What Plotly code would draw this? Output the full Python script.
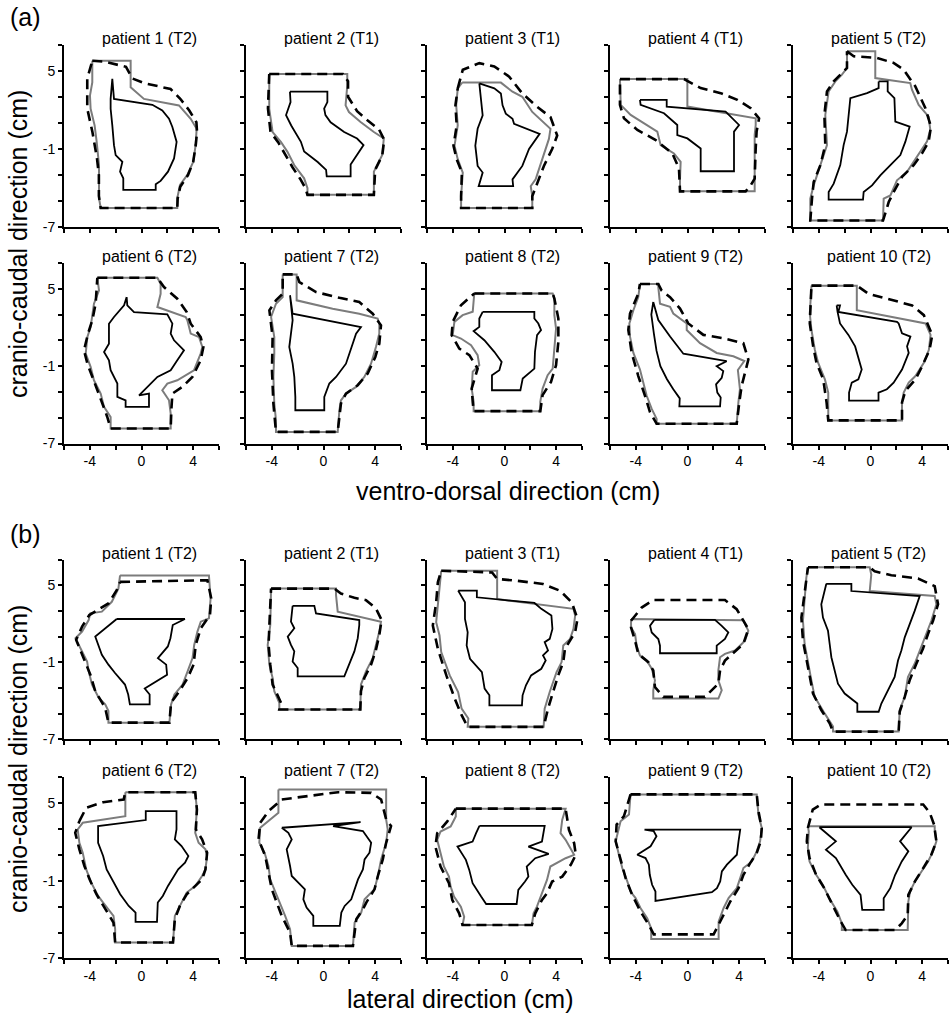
import plotly.graph_objects as go

# ---------------------------------------------------------------------------
# Contours (x, y) in cm for each patient.
#   *_inner : tumour outline (solid black)
#   *_mid   : margin outline (grey)
#   *_outer : motion-expanded outline (dashed black)
# Panel (a): ventro-dorsal vs cranio-caudal; panel (b): lateral vs cranio-caudal
# ---------------------------------------------------------------------------

# ---- panel (a) ----
a1_inner = [(-2.26,4.37),(-2.13,2.84),(0.84,2.39),(1.61,1.95),(2.13,1.32),(2.39,0.69),(2.72,-0.46),(2.52,-1.73),(2.05,-2.74),(1.48,-3.45),(1.10,-3.71),(1.10,-4.14),(-1.41,-4.14),(-1.41,-3.25),(-1.66,-2.74),(-1.48,-1.98),(-2.0,-1.47),(-2.13,-0.71),(-2.26,0.81),(-2.39,2.08),(-2.39,2.84),(-2.26,4.37)]
a1_mid = [(-3.81,5.76),(-0.84,5.76),(-0.84,3.73),(0.19,2.84),(2.90,2.34),(3.81,1.32),(4.27,0.56),(4.19,-0.71),(4.01,-1.98),(3.55,-2.99),(2.98,-3.76),(2.77,-4.77),(2.77,-5.53),(-3.16,-5.53),(-3.29,-4.77),(-3.29,-2.23),(-3.47,-0.46),(-3.63,0.81),(-3.94,2.08),(-3.99,3.10),(-3.81,4.11),(-3.81,5.76)]
a1_outer = [(-3.81,5.76),(-2.9,5.7),(-1.2,5.3),(-0.7,4.4),(0.2,4.05),(1.35,3.8),(2.25,3.6),(3.0,2.85),(3.7,1.95),(4.25,1.05),(4.3,0.3),(4.2,-0.7),(4.0,-2.0),(3.6,-3.0),(3.0,-3.9),(2.8,-4.8),(2.77,-5.53),(-3.16,-5.53),(-3.3,-4.6),(-3.3,-3.0),(-3.45,-1.7),(-3.8,0.3),(-4.2,2.1),(-4.2,4.4),(-3.81,5.76)]

a2_inner = [(-2.6,3.4),(0.3,3.4),(0.3,2.6),(0.05,2.1),(0.15,1.6),(0.55,1.05),(1.6,0.3),(2.6,-0.2),(3.1,-0.7),(2.6,-1.5),(2.1,-2.2),(2.1,-3.1),(0.25,-3.1),(0.2,-2.6),(-0.45,-2.0),(-1.5,-1.2),(-1.75,-0.45),(-2.5,0.8),(-2.9,1.6),(-2.55,2.6),(-2.6,3.4)]
a2_mid = [(-4.2,4.75),(1.84,4.75),(1.84,3.86),(1.71,2.34),(1.97,1.83),(2.87,1.07),(3.9,0.3),(4.67,-0.2),(4.54,-1.47),(3.9,-2.74),(3.9,-4.52),(-1.24,-4.52),(-1.24,-4.01),(-1.5,-3.25),(-2.27,-2.23),(-2.79,-1.22),(-3.3,-0.46),(-3.94,0.3),(-4.2,2.08),(-4.2,4.75)]
a2_outer = [(-4.2,4.75),(1.5,4.75),(1.9,4.2),(1.9,3.0),(2.6,1.9),(3.4,1.2),(4.3,0.5),(4.7,-0.3),(4.55,-1.5),(4.0,-2.6),(3.9,-4.52),(-1.24,-4.52),(-1.4,-4.0),(-1.8,-3.3),(-2.4,-2.4),(-3.0,-1.3),(-3.5,-0.5),(-4.1,0.3),(-4.3,2.1),(-4.2,4.75)]

a3_inner = [(-1.95,4.03),(-1.82,2.61),(-1.69,1.58),(-2.08,0.55),(-2.26,-0.75),(-2.08,-2.30),(-1.69,-2.81),(-2.0,-3.85),(0.67,-3.85),(0.62,-3.33),(1.38,-2.30),(1.90,-1.0),(2.72,0.16),(0.74,0.93),(0.62,1.32),(0.10,1.71),(-0.15,2.35),(-0.28,3.26),(-0.79,3.65),(-1.95,4.03)]
a3_mid = [(-3.28,4.09),(-0.28,4.09),(0.62,3.39),(1.38,3.0),(2.15,1.84),(3.56,0.55),(3.44,-0.23),(3.18,-1.0),(2.79,-2.30),(2.41,-3.33),(2.03,-3.85),(2.15,-4.62),(2.15,-5.53),(-3.36,-5.53),(-3.36,-4.62),(-3.23,-2.81),(-3.62,-1.78),(-3.87,-0.75),(-3.62,0.80),(-3.74,2.35),(-3.62,3.65),(-3.28,4.09)]
a3_outer = [(-3.62,3.65),(-3.23,5.07),(-1.95,5.58),(-0.79,5.33),(0.36,4.55),(1.38,3.26),(2.54,2.22),(3.56,1.45),(4.08,0.03),(3.69,-1.0),(3.05,-2.3),(2.54,-3.59),(2.15,-4.62),(2.15,-5.53),(-3.36,-5.53),(-3.36,-4.62),(-3.3,-2.8),(-3.7,-1.8),(-3.95,-0.75),(-3.7,0.8),(-3.8,2.35),(-3.62,3.65)]

a4_inner = [(-3.68,2.77),(-1.61,2.77),(-1.61,2.25),(2.95,1.87),(3.99,0.84),(3.60,0.33),(3.60,-2.71),(1.02,-2.71),(1.02,-0.96),(-0.01,-0.19),(-0.79,0.07),(-0.79,0.84),(-1.82,1.74),(-3.63,2.38),(-3.68,2.77)]
a4_mid = [(-5.23,4.36),(-0.01,4.36),(-0.01,2.25),(5.28,1.35),(5.28,0.84),(5.20,0.07),(5.20,-4.25),(-0.58,-4.25),(-0.58,-3.27),(-0.53,-1.99),(-1.05,-1.34),(-2.08,-0.70),(-2.34,0.33),(-4.40,1.61),(-5.17,2.38),(-5.23,3.41),(-5.23,4.36)]
a4_outer = [(-5.23,4.36),(-0.27,4.36),(1.02,3.67),(2.57,3.28),(3.86,2.77),(4.89,2.13),(5.54,1.35),(5.35,0.33),(5.28,-0.96),(5.20,-3.27),(4.89,-3.79),(4.50,-4.25),(-0.58,-4.25),(-0.66,-2.50),(-1.17,-1.34),(-2.46,-0.32),(-3.88,0.46),(-4.92,1.35),(-5.23,2.38),(-5.23,4.36)]

a5_inner = [(0.63,4.18),(1.33,4.18),(1.33,3.41),(1.85,2.90),(1.92,1.10),(3.03,0.71),(2.70,-0.44),(2.31,-1.47),(1.54,-2.24),(0.76,-3.02),(0.12,-3.79),(-0.53,-4.30),(-0.58,-4.89),(-3.24,-4.89),(-3.24,-4.30),(-2.85,-3.66),(-2.34,-2.24),(-2.08,-0.70),(-1.82,0.33),(-1.56,2.90),(-0.27,3.28),(0.63,3.67),(0.63,4.18)]
a5_mid = [(-1.82,6.50),(0.37,6.50),(0.37,4.44),(3.08,4.05),(3.21,3.54),(3.73,2.38),(4.50,1.48),(4.63,0.46),(4.37,-0.44),(3.86,-1.22),(3.34,-1.99),(2.83,-2.76),(2.05,-3.40),(1.54,-4.56),(1.02,-4.81),(0.97,-6.49),(-4.66,-6.49),(-4.66,-4.81),(-4.40,-3.79),(-3.88,-2.24),(-3.37,-0.70),(-3.50,1.61),(-3.24,3.41),(-2.72,4.18),(-2.21,4.70),(-1.82,5.21),(-1.82,6.50)]
a5_outer = [(-1.82,6.50),(-1.30,6.11),(0.50,5.98),(1.79,5.60),(2.57,5.08),(3.47,3.80),(4.25,2.13),(4.68,0.71),(4.50,-0.44),(3.99,-1.34),(3.34,-2.24),(2.44,-3.14),(1.79,-4.30),(1.41,-5.07),(0.97,-6.49),(-4.66,-6.49),(-4.53,-4.81),(-4.40,-3.53),(-3.88,-2.24),(-3.50,-0.70),(-3.57,1.61),(-3.37,3.41),(-2.85,4.18),(-1.82,5.21),(-1.82,6.50)]

a6_inner = [(-1.15,4.35),(-1.10,3.71),(-0.58,3.19),(2.0,3.01),(2.39,2.29),(2.26,1.52),(2.52,1.0),(3.29,0.23),(2.77,-0.55),(2.26,-1.32),(1.23,-1.84),(0.19,-2.87),(-0.19,-3.26),(0.58,-3.13),(0.58,-4.16),(-1.23,-4.16),(-1.23,-3.65),(-1.87,-3.39),(-1.87,-2.35),(-2.39,-1.32),(-2.52,-0.55),(-2.90,0.10),(-2.52,0.74),(-2.52,2.29),(-2.13,2.81),(-1.35,3.71),(-1.15,4.35)]
a6_mid = [(-3.42,5.85),(1.23,5.85),(1.48,5.39),(1.48,4.61),(1.23,3.58),(3.42,2.81),(3.55,2.55),(3.81,1.52),(4.45,1.26),(4.71,0.48),(4.58,-0.03),(4.06,-1.32),(2.77,-2.10),(2.0,-2.35),(1.61,-2.87),(2.13,-3.65),(2.26,-4.68),(2.26,-5.84),(-2.39,-5.84),(-2.39,-4.94),(-2.90,-4.16),(-3.16,-3.13),(-3.68,-2.10),(-3.94,-1.06),(-4.32,-0.03),(-4.19,1.26),(-3.94,2.03),(-3.68,3.84),(-3.29,4.87),(-3.42,5.85)]
a6_outer = [(-3.42,5.85),(1.23,5.85),(1.74,5.13),(2.77,4.23),(3.50,3.19),(3.81,2.29),(4.58,1.26),(4.79,0.48),(4.58,-0.55),(3.94,-1.84),(3.16,-2.61),(2.39,-3.13),(2.31,-4.42),(2.26,-5.84),(-2.39,-5.84),(-2.65,-4.94),(-3.03,-3.90),(-3.68,-2.10),(-4.19,-0.81),(-4.45,0.23),(-4.14,1.52),(-3.81,2.55),(-3.55,3.84),(-3.42,5.85)]

a7_inner = [(-2.59,4.48),(-2.39,3.06),(2.90,2.03),(2.52,1.52),(2.26,0.74),(2.0,-0.03),(1.74,-0.81),(0.97,-1.84),(0.45,-2.35),(0.06,-3.39),(0.06,-4.42),(-2.18,-4.42),(-2.18,-3.39),(-2.26,-1.84),(-2.39,-0.81),(-2.65,0.48),(-2.52,1.52),(-2.39,2.55),(-2.59,4.48)]
a7_mid = [(-3.16,6.11),(-2.08,6.11),(-2.08,4.10),(0.71,3.45),(2.77,3.06),(4.19,2.68),(4.32,2.29),(4.32,1.52),(4.06,0.48),(3.68,-0.81),(3.16,-1.84),(2.52,-2.61),(1.74,-3.13),(1.35,-3.65),(1.23,-4.42),(1.10,-6.10),(-3.68,-6.10),(-3.68,-5.19),(-3.81,-3.90),(-3.88,-1.84),(-3.81,-0.03),(-3.81,1.26),(-4.06,2.81),(-3.68,3.84),(-3.16,4.35),(-3.16,6.11)]
a7_outer = [(-3.16,6.11),(-2.08,6.11),(-1.87,5.52),(-0.58,4.74),(1.23,4.30),(2.77,3.97),(3.81,3.06),(4.45,2.16),(4.32,0.74),(4.01,-0.29),(3.42,-1.58),(2.65,-2.48),(1.74,-3.13),(1.35,-3.90),(1.10,-6.10),(-3.68,-6.10),(-3.88,-3.90),(-3.99,-1.32),(-3.94,1.26),(-4.19,3.32),(-3.68,4.10),(-3.16,4.61),(-3.16,6.11)]

a8_inner = [(-1.69,3.21),(2.31,3.21),(2.31,2.69),(2.62,2.30),(2.83,1.79),(2.52,1.40),(2.36,0.11),(2.31,-1.19),(1.41,-1.96),(1.23,-2.87),(-0.97,-2.87),(-0.97,-1.70),(-0.40,-1.32),(-0.22,-0.67),(-0.79,0.11),(-1.56,1.01),(-2.39,1.71),(-1.95,2.04),(-1.95,2.69),(-1.69,3.21)]
a8_mid = [(-2.34,4.63),(3.73,4.63),(3.86,4.24),(3.86,2.95),(3.99,1.91),(3.86,0.36),(3.73,-1.19),(3.34,-1.70),(2.95,-2.74),(2.77,-3.77),(2.77,-4.49),(-2.39,-4.49),(-2.39,-3.77),(-2.54,-2.74),(-2.46,-1.44),(-1.95,-0.93),(-2.08,-0.15),(-2.59,0.62),(-3.37,1.14),(-4.01,1.40),(-3.88,2.43),(-3.24,2.95),(-2.46,3.21),(-2.34,4.63)]
a8_outer = [(-2.34,4.63),(3.73,4.63),(3.86,4.24),(4.17,2.69),(4.17,0.88),(3.99,-0.93),(3.60,-2.22),(2.95,-3.25),(2.77,-4.49),(-2.39,-4.49),(-2.46,-3.77),(-2.54,-2.74),(-2.08,-1.19),(-2.72,-0.15),(-3.50,0.36),(-4.09,1.40),(-4.01,2.43),(-3.37,3.72),(-2.34,4.63)]

a9_inner = [(-2.65,3.97),(-2.26,2.57),(-1.35,1.29),(-0.32,-0.04),(3.03,-0.62),(2.26,-1.01),(2.77,-1.39),(2.65,-1.90),(2.21,-2.41),(2.31,-3.05),(2.57,-3.43),(2.52,-4.12),(-0.63,-4.12),(-0.6,-3.5),(-1.1,-2.8),(-1.6,-2.0),(-2.1,-1.0),(-2.4,0.2),(-2.6,1.5),(-2.8,3.0),(-2.65,3.97)]
a9_mid = [(-3.68,5.37),(-2.26,5.37),(-2.26,5.12),(-2.13,3.84),(-1.35,3.59),(-1.10,3.08),(-0.06,2.31),(-0.06,1.80),(0.97,0.78),(2.26,0.02),(3.55,-0.24),(4.4,-0.6),(3.9,-1.3),(4.06,-2.79),(3.94,-3.81),(3.81,-5.47),(-2.39,-5.47),(-2.39,-5.09),(-2.77,-4.32),(-3.16,-3.30),(-3.42,-2.28),(-3.68,-1.26),(-4.19,0.02),(-4.45,1.29),(-4.50,2.31),(-4.19,3.33),(-3.81,4.35),(-3.68,5.37)]
a9_outer = [(-3.68,5.37),(-2.26,5.37),(-2.0,4.86),(-1.35,4.35),(-0.58,3.46),(0.06,2.31),(1.23,1.42),(2.77,1.16),(4.32,0.78),(4.71,-0.49),(4.45,-1.52),(4.19,-2.54),(4.01,-3.81),(3.81,-5.47),(-2.39,-5.47),(-2.90,-4.58),(-3.29,-3.30),(-3.81,-1.77),(-4.32,0.02),(-4.58,1.80),(-4.45,3.08),(-3.81,4.61),(-3.68,5.37)]

a10_inner = [(-2.62,3.71),(-2.36,3.71),(-2.49,3.20),(2.05,2.44),(2.18,2.31),(2.44,1.55),(3.09,1.29),(2.83,0.53),(2.96,0.02),(2.44,-1.26),(1.79,-2.28),(1.27,-2.79),(0.62,-3.05),(0.62,-3.68),(-1.66,-3.68),(-1.66,-3.05),(-1.45,-2.28),(-0.94,-2.03),(-0.68,-1.26),(-1.19,0.53),(-1.71,1.42),(-2.36,2.31),(-2.55,3.20),(-2.62,3.71)]
a10_mid = [(-4.57,5.24),(-1.06,5.24),(-1.06,3.33),(4.26,2.31),(4.65,1.42),(4.52,0.27),(4.13,-0.75),(3.48,-1.77),(2.96,-2.28),(2.57,-3.05),(2.44,-3.81),(2.44,-5.21),(-3.27,-5.21),(-3.27,-4.58),(-3.27,-3.05),(-3.53,-2.03),(-4.05,-0.75),(-4.31,0.27),(-4.57,1.80),(-4.70,3.08),(-4.57,5.24)]
a10_outer = [(-4.57,5.24),(-1.06,5.24),(-0.16,4.61),(1.40,4.22),(3.22,3.71),(4.13,2.95),(4.78,1.42),(4.57,0.27),(4.0,-1.01),(3.48,-2.03),(2.70,-2.92),(2.44,-3.81),(2.44,-5.21),(-3.27,-5.21),(-3.40,-3.81),(-3.66,-2.03),(-4.18,-0.75),(-4.44,0.53),(-4.70,2.31),(-4.57,5.24)]

# ---- panel (b) ----
b1_inner = [(-1.92,2.37),(3.36,2.37),(2.42,1.90),(2.24,0.87),(2.04,0.23),(1.27,-0.68),(1.91,-1.19),(1.98,-1.97),(0.25,-3.05),(0.63,-3.52),(0.63,-4.29),(-0.90,-4.29),(-1.03,-3.52),(-1.28,-2.74),(-2.05,-1.84),(-2.56,-1.19),(-3.07,-0.42),(-3.32,0.35),(-3.58,1.0),(-1.92,2.37)]
b1_mid = [(-1.66,5.77),(5.22,5.77),(5.35,3.97),(5.22,2.42),(4.59,2.16),(4.33,1.39),(4.08,0.35),(3.95,-0.68),(3.57,-1.71),(3.18,-2.74),(2.55,-3.52),(2.29,-4.29),(2.16,-5.71),(-2.56,-5.71),(-2.56,-4.81),(-2.81,-4.29),(-3.32,-3.77),(-3.83,-2.74),(-4.09,-1.71),(-4.21,-0.94),(-4.60,-0.16),(-5.11,0.87),(-4.60,1.39),(-4.09,2.29),(-3.96,2.81),(-3.07,2.94),(-2.30,3.71),(-1.79,4.74),(-1.66,5.77)]
b1_outer = [(-1.66,5.26),(5.10,5.39),(5.40,3.97),(5.30,2.68),(4.59,1.65),(4.20,0.35),(4.03,-1.19),(3.57,-2.23),(2.93,-3.26),(2.29,-4.16),(2.16,-5.71),(-2.56,-5.71),(-2.81,-4.55),(-3.58,-3.26),(-3.96,-1.97),(-4.47,-0.68),(-5.06,0.74),(-4.60,1.77),(-4.04,2.68),(-2.56,3.58),(-1.92,4.61),(-1.66,5.26)]

b2_inner = [(-2.39,3.40),(-0.71,3.40),(-0.58,2.81),(2.77,2.29),(2.77,1.90),(2.65,0.87),(2.39,-0.16),(2.0,-1.19),(1.61,-2.10),(-2.0,-2.10),(-2.0,-1.45),(-2.39,-0.94),(-2.26,-0.16),(-2.52,0.35),(-2.77,1.0),(-2.26,1.65),(-2.52,2.16),(-2.39,3.40)]
b2_mid = [(-4.06,4.74),(0.97,4.74),(0.97,4.23),(1.10,2.94),(4.45,2.16),(4.32,1.39),(4.06,0.35),(3.81,-0.68),(3.29,-1.71),(2.90,-2.74),(2.85,-4.68),(-3.42,-4.68),(-3.42,-4.16),(-3.81,-3.26),(-3.94,-2.23),(-4.19,-1.19),(-4.32,0.35),(-4.12,1.90),(-4.06,4.74)]
b2_outer = [(-4.06,4.74),(0.84,4.74),(1.35,4.35),(2.39,4.02),(3.29,3.84),(4.06,3.19),(4.50,2.29),(4.32,1.13),(4.06,-0.03),(3.68,-1.19),(3.16,-2.23),(2.90,-3.26),(2.85,-4.68),(-3.42,-4.68),(-3.29,-4.16),(-3.94,-2.74),(-4.12,-1.19),(-4.25,0.35),(-4.19,1.90),(-4.06,4.74)]

b3_inner = [(-3.59,4.58),(-2.14,4.58),(-2.14,4.06),(2.32,3.62),(2.85,3.16),(3.63,2.64),(3.71,1.60),(3.50,0.82),(3.11,0.56),(3.37,-0.08),(2.98,-0.47),(3.19,-0.86),(2.85,-1.51),(2.06,-2.03),(1.66,-2.80),(1.40,-3.58),(1.35,-4.36),(-1.17,-4.36),(-1.17,-3.58),(-1.54,-3.06),(-1.75,-1.77),(-2.67,-0.73),(-2.93,0.31),(-2.85,1.34),(-3.06,2.38),(-3.06,3.67),(-3.59,4.58)]
b3_mid = [(-4.90,6.13),(-0.57,6.13),(-0.57,3.93),(5.34,3.16),(5.47,2.64),(5.34,1.60),(5.08,0.82),(4.55,0.31),(4.42,-0.99),(4.03,-1.77),(3.50,-3.32),(3.11,-4.62),(3.03,-6.04),(-2.85,-6.04),(-2.80,-5.39),(-3.32,-4.62),(-3.59,-3.32),(-4.24,-2.03),(-4.90,-0.21),(-5.03,1.08),(-5.29,2.12),(-5.16,3.67),(-5.03,5.23),(-4.90,6.13)]
b3_outer = [(-4.90,6.13),(-0.96,6.0),(-0.57,5.49),(0.88,5.36),(2.98,5.10),(4.29,4.58),(5.21,3.67),(5.65,2.38),(5.47,1.34),(4.68,0.05),(4.55,-0.99),(4.16,-2.03),(3.76,-3.32),(3.37,-4.62),(3.03,-6.04),(-2.85,-6.04),(-3.32,-5.13),(-3.85,-3.84),(-4.50,-2.03),(-5.16,0.05),(-5.55,1.86),(-5.29,3.67),(-5.16,5.23),(-4.90,6.13)]

b4_inner = [(-2.57,2.30),(2.13,2.30),(2.65,1.84),(3.16,1.32),(2.90,0.81),(2.26,0.29),(2.26,-0.30),(-2.13,-0.30),(-2.13,0.29),(-2.26,0.81),(-2.77,1.32),(-2.90,1.84),(-2.57,2.30)]
b4_mid = [(-4.37,2.36),(4.32,2.28),(4.71,1.45),(4.45,0.68),(4.06,0.29),(3.68,-0.09),(2.90,-0.35),(2.52,-0.61),(2.39,-1.64),(2.39,-2.41),(2.65,-3.19),(2.39,-3.83),(-2.65,-3.83),(-2.65,-3.19),(-2.52,-2.41),(-2.77,-1.51),(-3.16,-0.87),(-3.68,-0.48),(-3.94,0.29),(-4.06,1.20),(-4.37,1.71),(-4.37,2.36)]
b4_outer = [(-4.37,2.23),(-3.55,3.26),(-2.65,3.85),(2.90,3.85),(3.81,3.13),(4.71,1.58),(4.32,0.42),(2.90,-0.87),(2.52,-1.64),(2.39,-2.67),(2.26,-2.80),(1.35,-3.70),(-1.87,-3.70),(-2.52,-2.93),(-2.65,-1.64),(-3.03,-1.0),(-3.81,-0.35),(-4.06,0.68),(-4.37,1.71),(-4.37,2.23)]

b5_inner = [(-3.42,5.11),(-1.48,5.11),(-1.48,4.55),(3.81,4.16),(3.42,3.0),(3.03,1.97),(2.65,0.94),(2.39,-0.09),(2.13,-0.87),(1.87,-2.15),(1.35,-3.19),(0.84,-4.22),(0.63,-4.86),(-1.02,-4.86),(-1.02,-4.22),(-2.0,-3.44),(-2.52,-2.67),(-2.77,-1.64),(-3.03,-0.61),(-3.16,0.42),(-3.29,1.45),(-3.68,2.48),(-3.81,3.52),(-3.42,5.11)]
b5_mid = [(-4.84,6.40),(-0.06,6.40),(0.06,5.84),(-0.06,4.55),(4.97,4.16),(5.10,3.52),(4.71,2.23),(4.32,1.20),(3.94,0.16),(3.42,-1.12),(2.90,-2.15),(2.65,-3.70),(2.26,-4.73),(2.18,-6.41),(-2.90,-6.41),(-2.90,-6.02),(-3.55,-4.99),(-4.32,-3.70),(-4.58,-2.41),(-4.84,-1.12),(-5.10,0.42),(-5.23,2.23),(-5.10,4.03),(-4.97,5.58),(-4.84,6.40)]
b5_outer = [(-4.84,6.40),(-0.06,6.40),(0.32,6.09),(1.61,5.78),(3.68,5.53),(4.97,4.93),(5.23,3.52),(4.84,2.23),(4.45,1.20),(4.06,0.04),(3.55,-1.12),(3.03,-2.41),(2.65,-3.70),(2.26,-4.86),(2.18,-6.41),(-2.90,-6.41),(-3.16,-5.76),(-3.81,-4.73),(-4.45,-3.44),(-4.71,-2.15),(-4.97,-0.87),(-5.23,0.68),(-5.35,2.48),(-5.15,4.03),(-4.84,6.40)]

b6_inner = [(0.46,4.36),(2.71,4.36),(2.71,2.95),(2.58,2.18),(3.10,1.67),(3.63,0.90),(3.37,0.38),(2.84,-0.13),(2.44,-0.77),(2.05,-1.41),(1.65,-2.18),(1.26,-2.69),(1.20,-4.18),(-0.46,-4.18),(-0.46,-3.46),(-0.99,-2.95),(-1.65,-2.05),(-2.17,-1.15),(-2.70,-0.13),(-2.97,0.90),(-3.36,1.92),(-3.36,3.21),(0.33,3.67),(0.33,4.36),(0.46,4.36)]
b6_mid = [(-1.25,5.82),(4.16,5.82),(4.29,4.49),(4.16,2.69),(4.42,1.92),(4.95,1.41),(5.08,0.90),(4.95,-0.13),(4.69,-0.64),(4.16,-1.41),(3.50,-1.92),(2.97,-2.95),(2.58,-3.72),(2.44,-5.77),(-2.04,-5.77),(-2.04,-4.74),(-2.17,-3.72),(-2.97,-2.69),(-3.36,-2.18),(-3.89,-1.15),(-4.28,-0.13),(-4.55,1.15),(-4.81,1.92),(-4.94,2.95),(-4.55,3.46),(-1.25,3.97),(-1.25,5.82)]
b6_outer = [(-4.81,3.59),(-4.28,4.62),(-2.97,5.05),(-1.38,5.26),(-1.25,5.82),(4.16,5.82),(4.29,4.49),(4.21,2.95),(4.69,2.18),(5.08,1.15),(4.95,-0.13),(4.69,-0.90),(4.03,-1.54),(3.50,-2.05),(2.97,-2.95),(2.58,-3.97),(2.44,-5.77),(-2.04,-5.77),(-2.17,-4.23),(-2.97,-2.95),(-3.49,-2.05),(-4.02,-0.90),(-4.42,0.13),(-4.81,1.41),(-5.13,2.69),(-4.81,3.59)]

b7_inner = [(-3.23,3.08),(2.87,3.51),(0.74,3.21),(3.05,2.82),(3.69,1.92),(3.56,1.15),(3.18,0.64),(3.05,-0.13),(2.67,-0.90),(2.41,-1.67),(2.15,-2.44),(1.64,-2.95),(1.38,-3.46),(1.26,-4.49),(-0.79,-4.49),(-0.79,-3.72),(-1.31,-3.08),(-1.56,-2.44),(-1.44,-1.67),(-1.95,-1.15),(-2.46,-0.64),(-2.59,0.13),(-2.72,0.90),(-2.85,1.41),(-2.46,2.18),(-2.72,2.69),(-3.23,3.08)]
b7_mid = [(-3.49,6.03),(4.85,6.03),(4.85,3.72),(4.97,2.95),(4.85,1.92),(4.46,0.64),(4.21,-0.64),(3.95,-1.67),(3.18,-2.44),(2.92,-3.46),(2.41,-4.23),(2.28,-6.03),(-2.46,-6.03),(-2.59,-4.74),(-2.97,-3.72),(-3.36,-2.82),(-3.74,-1.92),(-4.13,-0.90),(-4.26,0.13),(-4.56,1.15),(-4.97,1.92),(-4.90,3.08),(-3.49,4.23),(-3.49,6.03)]
b7_outer = [(-4.90,3.46),(-4.26,4.36),(-3.23,5.26),(-1.44,5.51),(1.13,5.82),(3.69,5.77),(4.46,5.26),(4.85,3.72),(5.23,3.21),(4.85,1.92),(4.59,0.64),(4.21,-0.64),(3.95,-1.67),(3.31,-2.69),(3.05,-3.21),(2.54,-3.97),(2.28,-6.03),(-2.46,-6.03),(-2.59,-5.0),(-3.23,-3.72),(-3.62,-2.69),(-4.0,-1.67),(-4.26,-0.38),(-4.51,0.90),(-5.03,2.18),(-4.90,3.46)]

b8_inner = [(-1.94,3.23),(3.11,3.23),(2.90,2.02),(1.85,1.63),(3.42,1.07),(2.38,0.73),(1.72,0.09),(1.85,-0.69),(1.59,-1.07),(1.07,-1.72),(0.94,-2.80),(-1.42,-2.80),(-1.81,-2.23),(-2.20,-1.59),(-2.47,-1.20),(-2.73,-0.17),(-2.99,0.60),(-3.64,1.63),(-2.47,2.02),(-2.20,2.66),(-1.94,3.23)]
b8_mid = [(-3.77,4.55),(4.73,4.55),(4.47,3.70),(4.34,2.66),(4.73,2.15),(5.39,0.99),(4.73,0.73),(3.55,0.09),(3.29,-0.94),(2.90,-1.97),(2.51,-3.0),(2.25,-3.52),(2.12,-4.42),(-3.25,-4.42),(-3.12,-3.78),(-3.38,-3.0),(-3.91,-2.23),(-4.17,-1.46),(-4.30,-0.69),(-4.69,0.09),(-4.95,1.12),(-5.21,2.15),(-4.95,2.79),(-4.17,3.18),(-3.77,3.95),(-3.77,4.55)]
b8_outer = [(-3.77,4.55),(4.73,4.55),(4.99,2.92),(5.39,1.89),(5.52,0.99),(5.13,0.22),(4.47,-0.69),(3.69,-1.07),(3.29,-1.97),(2.90,-2.49),(2.38,-3.52),(2.12,-4.42),(-3.25,-4.42),(-3.51,-3.52),(-4.04,-2.49),(-4.30,-1.20),(-4.95,0.09),(-5.35,1.63),(-5.21,2.66),(-4.43,3.57),(-3.77,4.55)]

b9_inner = [(-3.33,2.94),(4.08,2.94),(3.95,2.03),(3.82,1.0),(3.05,0.23),(2.66,-0.29),(2.53,-1.06),(2.28,-1.58),(1.89,-1.89),(-2.48,-2.56),(-2.48,-1.84),(-2.74,-1.32),(-2.92,-0.55),(-2.99,0.23),(-3.25,0.74),(-3.89,1.0),(-2.86,1.65),(-2.40,2.42),(-2.61,2.81),(-3.33,2.94)]
b9_mid = [(-4.41,5.65),(5.36,5.65),(5.49,4.10),(5.75,3.06),(5.62,2.03),(5.36,1.26),(4.98,0.48),(4.33,-0.03),(4.08,-0.81),(3.82,-1.58),(3.18,-2.35),(2.79,-3.13),(2.41,-4.16),(2.41,-5.50),(-2.81,-5.50),(-2.81,-4.68),(-3.12,-3.90),(-3.63,-3.13),(-4.02,-2.35),(-4.41,-1.84),(-4.66,-1.06),(-5.05,-0.03),(-5.31,1.0),(-5.56,2.03),(-5.31,3.06),(-5.18,3.58),(-4.53,4.10),(-4.41,5.65)]
b9_outer = [(-4.41,5.65),(5.36,5.65),(5.49,4.36),(5.75,3.06),(5.67,2.03),(5.36,1.13),(4.85,0.35),(4.33,-0.55),(3.95,-1.58),(3.31,-2.61),(2.79,-3.65),(2.28,-4.68),(2.02,-5.14),(-2.61,-5.14),(-2.99,-4.42),(-3.63,-3.39),(-4.28,-2.10),(-4.79,-0.81),(-5.31,1.0),(-5.56,2.03),(-5.49,3.32),(-4.92,3.97),(-4.41,5.65)]

b10_inner = [(-3.96,3.12),(3.18,3.12),(2.29,2.03),(2.93,1.26),(2.42,0.48),(1.91,-0.55),(1.53,-1.58),(1.02,-2.35),(1.02,-3.26),(-0.64,-3.26),(-0.77,-2.10),(-1.41,-1.32),(-1.92,-0.55),(-2.68,0.74),(-3.45,1.39),(-2.68,2.03),(-3.96,3.12)]
b10_mid = [(-4.85,3.19),(4.97,3.19),(4.97,2.94),(5.10,2.03),(4.84,1.26),(4.46,0.48),(3.95,-0.29),(3.44,-1.06),(3.06,-1.84),(2.93,-2.61),(2.88,-4.81),(-2.22,-4.81),(-2.22,-4.29),(-2.56,-3.39),(-3.19,-2.35),(-3.70,-1.32),(-4.21,-0.55),(-4.72,0.48),(-4.85,1.52),(-4.78,2.81),(-4.85,3.19)]
b10_outer = [(-4.85,3.06),(-4.47,4.48),(-3.83,4.87),(4.08,4.87),(4.59,4.23),(4.92,3.32),(5.10,2.03),(4.71,1.0),(4.08,-0.03),(3.44,-1.06),(2.93,-2.10),(2.88,-3.65),(2.42,-4.29),(1.91,-4.81),(-1.92,-4.81),(-2.30,-4.16),(-2.94,-2.87),(-3.58,-1.58),(-4.21,-0.55),(-4.72,0.74),(-4.93,2.03),(-4.85,3.06)]

# ---- labels and ticks ----
patient_titles = ["patient 1 (T2)", "patient 2 (T1)", "patient 3 (T1)", "patient 4 (T1)", "patient 5 (T2)",
                  "patient 6 (T2)", "patient 7 (T2)", "patient 8 (T2)", "patient 9 (T2)", "patient 10 (T2)"]
panel_labels = ["(a)", "(b)"]
x_titles = ["ventro-dorsal direction (cm)", "lateral direction (cm)"]
y_title = "cranio-caudal direction (cm)"
x_tick_vals = [-6, -4, -2, 0, 2, 4, 6]
x_tick_text = ["", "-4", "", "0", "", "4", ""]
y_tick_vals = [-7, -5, -3, -1, 1, 3, 5, 7]
y_tick_text = ["-7", "", "", "-1", "", "", "5", ""]

panel_a = [(a1_inner, a1_mid, a1_outer), (a2_inner, a2_mid, a2_outer), (a3_inner, a3_mid, a3_outer),
           (a4_inner, a4_mid, a4_outer), (a5_inner, a5_mid, a5_outer), (a6_inner, a6_mid, a6_outer),
           (a7_inner, a7_mid, a7_outer), (a8_inner, a8_mid, a8_outer), (a9_inner, a9_mid, a9_outer),
           (a10_inner, a10_mid, a10_outer)]
panel_b = [(b1_inner, b1_mid, b1_outer), (b2_inner, b2_mid, b2_outer), (b3_inner, b3_mid, b3_outer),
           (b4_inner, b4_mid, b4_outer), (b5_inner, b5_mid, b5_outer), (b6_inner, b6_mid, b6_outer),
           (b7_inner, b7_mid, b7_outer), (b8_inner, b8_mid, b8_outer), (b9_inner, b9_mid, b9_outer),
           (b10_inner, b10_mid, b10_outer)]

# ---- page geometry (pixels) ----
W, H = 949, 1025
COL_LEFT = [64, 246, 427, 610, 793]
PLOT_W = 155
ROWS = [(45, 229), (265, 447), (564, 745), (783, 966)]
FONT = "Arial, Liberation Sans, Helvetica, sans-serif"


def fx(px):
    return px / W


def fy(px):
    return 1 - px / H


fig = go.Figure()
layout = {}
annotations = []

for p, panel in enumerate([panel_a, panel_b]):
    for i, (inner, mid, outer) in enumerate(panel):
        k = p * 10 + i + 1
        row = p * 2 + i // 5
        col = i % 5
        sfx = "" if k == 1 else str(k)
        top, bot = ROWS[row]
        left = COL_LEFT[col]

        for pts, style in ((mid, dict(color="#7c7c7c", width=2)),
                           (outer, dict(color="black", width=2.6, dash="10px,6px")),
                           (inner, dict(color="black", width=1.8))):
            fig.add_trace(go.Scatter(
                x=[q[0] for q in pts], y=[q[1] for q in pts],
                mode="lines", line=style, hoverinfo="skip",
                xaxis="x" + sfx, yaxis="y" + sfx))

        bottom_row = (i // 5) == 1
        layout["xaxis" + sfx] = dict(
            domain=[fx(left), fx(left + PLOT_W)], anchor="y" + sfx,
            range=[-6, 6], tickmode="array", tickvals=x_tick_vals,
            ticktext=x_tick_text if bottom_row else [""] * len(x_tick_vals),
            ticks="outside", ticklen=4, tickwidth=1.5, tickcolor="black",
            showline=True, linewidth=2, linecolor="black",
            showgrid=False, zeroline=False, fixedrange=True,
            tickfont=dict(family=FONT, size=14, color="black"))
        layout["yaxis" + sfx] = dict(
            domain=[fy(bot), fy(top)], anchor="x" + sfx,
            range=[-7, 7], tickmode="array", tickvals=y_tick_vals,
            ticktext=y_tick_text if col == 0 else [""] * len(y_tick_vals),
            ticks="outside", ticklen=4, tickwidth=1.5, tickcolor="black",
            showline=True, linewidth=2, linecolor="black",
            showgrid=False, zeroline=False, fixedrange=True,
            tickfont=dict(family=FONT, size=14, color="black"))

        annotations.append(dict(
            text=patient_titles[i], x=fx(left + PLOT_W / 2 + 8), y=fy(top - 6),
            xref="paper", yref="paper", xanchor="center", yanchor="middle",
            showarrow=False, font=dict(family=FONT, size=16, color="black")))

# panel letters, axis titles
for lbl, ypx in zip(panel_labels, [17, 538]):
    annotations.append(dict(text=lbl, x=fx(8), y=fy(ypx), xref="paper", yref="paper",
                            xanchor="left", yanchor="middle", showarrow=False,
                            font=dict(family=FONT, size=25, color="black")))
for txt, xpx, ypx in zip(x_titles, [508, 460], [495, 1007]):
    annotations.append(dict(text=txt, x=fx(xpx), y=fy(ypx), xref="paper", yref="paper",
                            xanchor="center", yanchor="middle", showarrow=False,
                            font=dict(family=FONT, size=25, color="black")))
for ypx in [246, 765]:
    annotations.append(dict(text=y_title, x=fx(18), y=fy(ypx), xref="paper", yref="paper",
                            xanchor="center", yanchor="middle", textangle=-90, showarrow=False,
                            font=dict(family=FONT, size=25, color="black")))

fig.update_layout(
    width=W, height=H, margin=dict(l=0, r=0, t=0, b=0),
    paper_bgcolor="white", plot_bgcolor="white", showlegend=False,
    annotations=annotations, **layout)

fig.write_html("out.html")
